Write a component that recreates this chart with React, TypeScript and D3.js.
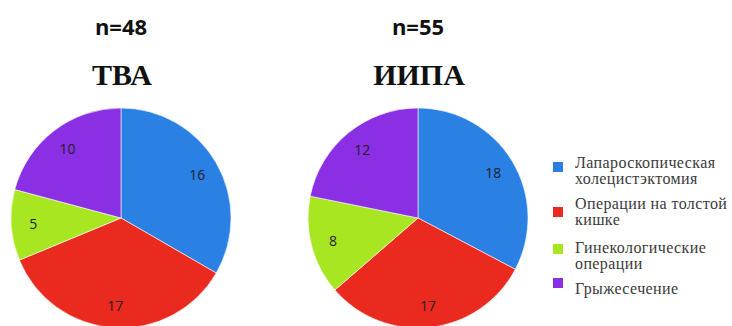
import React from "react";
import * as d3 from "d3";

// Operation types shown in each pie, in drawing order (clockwise from 12 o'clock)
const categories: string[][] = [
  ["Лапароскопическая", "холецистэктомия"],
  ["Операции на толстой", "кишке"],
  ["Гинекологические", "операции"],
  ["Грыжесечение"],
];
const colors = ["#2b80e4", "#ea2a1e", "#a9e622", "#8a2fe3"];

const groupNames = ["ТВА", "ИИПА"];
const tvaValues = [16, 17, 5, 10];
const iipaValues = [18, 17, 8, 12];

const W = 732;
const H = 326;
const R = 110;

const SERIF = "Liberation Serif, Times New Roman, serif";
const SANS = "Open Sans, sans-serif";

const pieGen = d3.pie<number>().sort(null).value((d) => d);
const arcGen = d3.arc<d3.PieArcDatum<number>>().innerRadius(0).outerRadius(R);
const labelArc = d3.arc<d3.PieArcDatum<number>>().innerRadius(R * 0.6).outerRadius(R);

function Pie({ cx, cy, values, title }: { cx: number; cy: number; values: number[]; title: string }) {
  const arcs = pieGen(values);
  const total = d3.sum(values);
  return (
    <g>
      <text x={cx} y={35} textAnchor="middle" style={{ fontFamily: SANS, fontWeight: 700, fontSize: 22 }} fill="#111">
        {`n=${total}`}
      </text>
      <text x={cx + 1} y={85} textAnchor="middle" style={{ fontFamily: SERIF, fontWeight: 700, fontSize: 30 }} fill="#111">
        {title}
      </text>
      <g transform={`translate(${cx},${cy})`}>
        {arcs.map((a, i) => (
          <path key={i} d={arcGen(a) || ""} fill={colors[i]} stroke="#fff" strokeWidth={0.6} />
        ))}
        {arcs.map((a, i) => {
          const [x, y] = labelArc.centroid(a);
          return (
            <text
              key={`l${i}`}
              x={x}
              y={y}
              textAnchor="middle"
              dominantBaseline="central"
              style={{ fontFamily: SANS, fontSize: 14 }}
              fill="#1e1e28"
            >
              {a.data}
            </text>
          );
        })}
      </g>
    </g>
  );
}

// Vertical placement of legend entries: first text line and colour swatch
const legendTextY = [162, 203, 247, 288];
const legendSwatchY = [167, 212, 249, 283];

export default function App() {
  return (
    <svg width={W} height={H} style={{ position: "absolute", left: 0, top: 0, background: "#fff" }}>
      <rect width={W} height={H} fill="#fff" />
      <Pie cx={121} cy={218} values={tvaValues} title={groupNames[0]} />
      <Pie cx={418} cy={218} values={iipaValues} title={groupNames[1]} />
      <g>
        {categories.map((lines, i) => (
          <g key={i}>
            <rect x={553} y={legendSwatchY[i] - 5} width={10} height={10} fill={colors[i]} />
            {lines.map((ln, j) => (
              <text
                key={j}
                x={575}
                y={legendTextY[i] + j * 16}
                dominantBaseline="central"
                style={{ fontFamily: SERIF, fontSize: 16, letterSpacing: 0.4 }}
                fill="#3a3a3a"
              >
                {ln}
              </text>
            ))}
          </g>
        ))}
      </g>
    </svg>
  );
}
